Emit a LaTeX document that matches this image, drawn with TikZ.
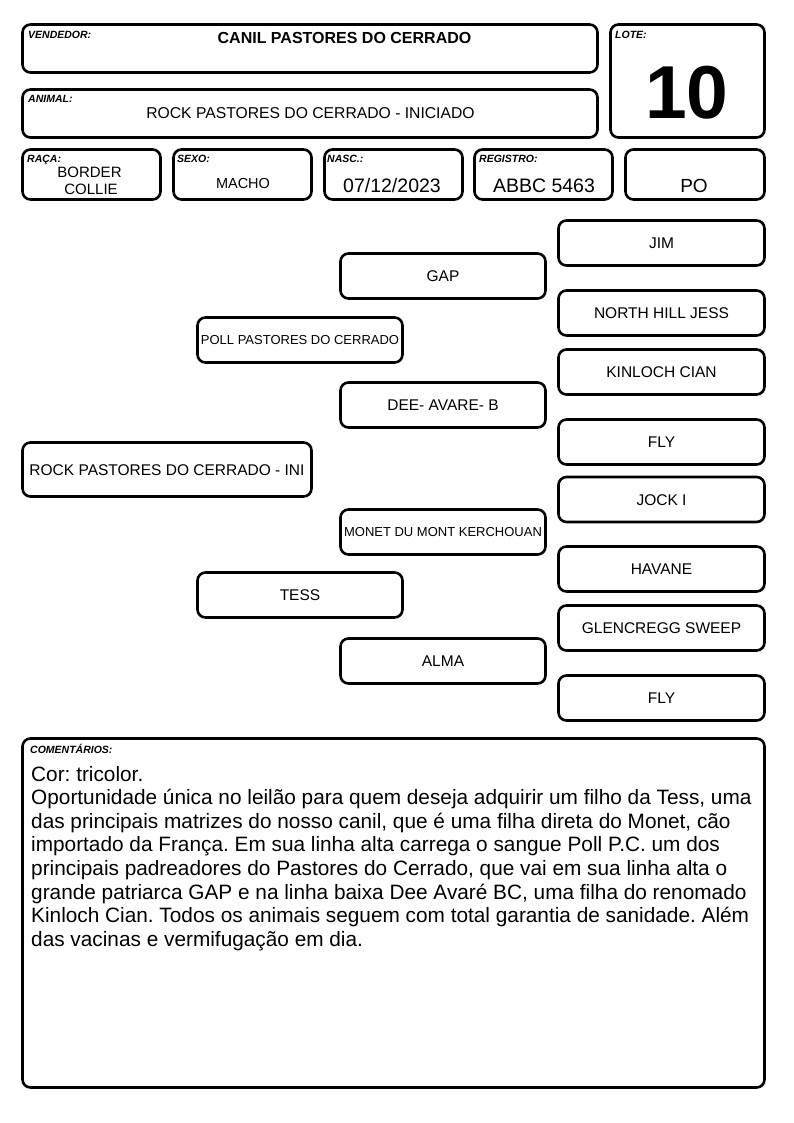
\documentclass[tikz,border=0pt]{standalone}
\usepackage{fontspec}
\setmainfont{Liberation Sans}
\frenchspacing
\begin{document}
\begin{tikzpicture}[x=1pt,y=-1pt,
  frame/.style={draw=black, line width=2.6pt, rounded corners=8pt, inner sep=0pt, fill=white},
  pbox/.style={frame, minimum width=205pt, minimum height=45pt, text height=11.1pt, text depth=0pt, font=\fontsize{15.5}{18}\selectfont},
  rbox/.style={pbox, minimum width=206pt},
  lbl/.style={font=\fontsize{10.5}{12}\selectfont\bfseries\itshape, anchor=base west, inner sep=0pt},
  val/.style={anchor=base, inner sep=0pt},
  cline/.style={anchor=base west, inner sep=0pt, font=\fontsize{20.8}{23.6}\selectfont}
  ]
\useasboundingbox (0,0) rectangle (794,1123);
\fill[white] (0,0) rectangle (794,1123);

% header boxes
\node[frame, minimum width=575pt, minimum height=48pt] (vend) at (310,48.5) {};
\node[frame, minimum width=575pt, minimum height=48pt] (anim) at (310,113.5) {};
\node[frame, minimum width=154pt, minimum height=113pt] (lote) at (687.5,81) {};
\node[frame, minimum width=138pt, minimum height=50pt] (raca) at (91.5,174.5) {};
\node[frame, minimum width=138pt, minimum height=50pt] (sexo) at (242.5,174.5) {};
\node[frame, minimum width=138pt, minimum height=50pt] (nasc) at (393.5,174.5) {};
\node[frame, minimum width=138pt, minimum height=50pt] (regi) at (543.5,174.5) {};
\node[frame, minimum width=139pt, minimum height=50pt] (pobx) at (695,174.5) {};

\node[lbl] (vendl) at (28,39) {VENDEDOR:};
\node[val, font=\fontsize{16}{18}\selectfont\bfseries] (vendt) at (344.5,44) {CANIL PASTORES DO CERRADO};
\node[lbl] (animl) at (28,103) {ANIMAL:};
\node[val, font=\fontsize{15.7}{18}\selectfont] (animt) at (310.5,119) {ROCK PASTORES DO CERRADO - INICIADO};
\node[lbl] (lotel) at (615,39) {LOTE:};
\node[val, font=\fontsize{75}{80}\selectfont\bfseries] (lotet) at (687,119) {10};

\node[lbl] (racal) at (27,163) {RAÇA:};
\node[val, font=\fontsize{15}{17}\selectfont] (racat1) at (89.5,178) {BORDER};
\node[val, font=\fontsize{15}{17}\selectfont] (racat2) at (91,195) {COLLIE};
\node[lbl] (sexol) at (177,163) {SEXO:};
\node[val, font=\fontsize{14.5}{17}\selectfont] (sexot) at (243,189) {MACHO};
\node[lbl] (nascl) at (327,163) {NASC.:};
\node[val, font=\fontsize{19.5}{22}\selectfont] (nasct) at (392,193) {07/12/2023};
\node[lbl] (regil) at (479,163) {REGISTRO:};
\node[val, font=\fontsize{19.5}{22}\selectfont] (regit) at (544,193) {ABBC 5463};
\node[val, font=\fontsize{19}{22}\selectfont] (pot) at (694,193) {PO};

% pedigree
\node[pbox, minimum width=289pt, minimum height=54pt] (rock) at (167,469.5) {ROCK PASTORES DO CERRADO - INI};
\node[pbox, font=\fontsize{13}{15}\selectfont, text height=9.3pt] (poll) at (300,340) {POLL PASTORES DO CERRADO};
\node[pbox] (tess) at (300,595) {TESS};
\node[pbox] (gap) at (443,276) {GAP};
\node[pbox] (dee) at (443,405) {DEE- AVARE- B};
\node[pbox, font=\fontsize{13}{15}\selectfont, text height=9.3pt] (monet) at (443,532) {MONET DU MONT KERCHOUAN};
\node[pbox] (alma) at (443,661) {ALMA};
\node[rbox] (jim) at (661.5,243) {JIM};
\node[rbox] (nhj) at (661.5,313) {NORTH HILL JESS};
\node[rbox] (kin) at (661.5,372) {KINLOCH CIAN};
\node[rbox] (fly1) at (661.5,442) {FLY};
\node[rbox] (jock) at (661.5,499.5) {JOCK I};
\node[rbox] (hav) at (661.5,569) {HAVANE};
\node[rbox] (glen) at (661.5,628) {GLENCREGG SWEEP};
\node[rbox] (fly2) at (661.5,698) {FLY};

% comments
\node[frame, minimum width=742pt, minimum height=349pt] (com) at (393.5,913) {};
\node[lbl] (coml) at (30,753) {COMENTÁRIOS:};
\node[cline] (c1) at (31,781) {Cor: tricolor.};
\node[cline] (c2) at (31,804.6) {Oportunidade única no leilão para quem deseja adquirir um filho da Tess, uma};
\node[cline] (c3) at (31,828.2) {das principais matrizes do nosso canil, que é uma filha direta do Monet, cão};
\node[cline] (c4) at (31,851.8) {importado da França. Em sua linha alta carrega o sangue Poll P.C. um dos};
\node[cline] (c5) at (31,875.4) {principais padreadores do Pastores do Cerrado, que vai em sua linha alta o};
\node[cline] (c6) at (31,899) {grande patriarca GAP e na linha baixa Dee Avaré BC, uma filha do renomado};
\node[cline] (c7) at (31,922.6) {Kinloch Cian. Todos os animais seguem com total garantia de sanidade. Além};
\node[cline] (c8) at (31,946.2) {das vacinas e vermifugação em dia.};
\end{tikzpicture}
\end{document}
